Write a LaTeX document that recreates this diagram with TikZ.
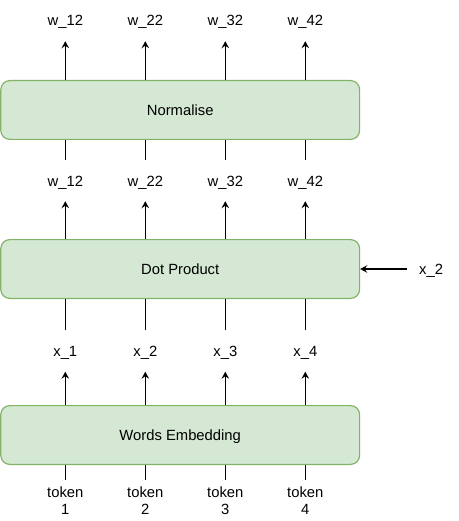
\documentclass[tikz,border=0pt]{standalone}
\usepackage{fontspec}
\setmainfont{Liberation Sans}
\usetikzlibrary{arrows.meta}
\definecolor{boxfill}{HTML}{D5E8D4}
\definecolor{boxline}{HTML}{82B366}

\begin{document}
\begin{tikzpicture}[x=1pt,y=-1pt,font=\fontsize{14.8}{17.4}\selectfont]
        \useasboundingbox (0,0) rectangle (458,521);

        \begin{scope}[every node/.style={draw=boxline, fill=boxfill, line width=1.2pt, rounded corners=9pt,
            minimum width=358.8pt, minimum height=58.8pt, text height=11pt, text depth=0pt}]
          \node (norm) at (180.2,110) {Normalise};
          \node (dot)  at (180.2,269) {Dot Product};
          \node (emb)  at (180.2,435) {Words Embedding};
        \end{scope}

        \begin{scope}[every node/.style={inner sep=0pt, minimum height=41pt, text height=11pt, text depth=0pt}]
          \node (w1) at (65.3,20.5)  {w\_12};
          \node (w2) at (145.3,20.5) {w\_22};
          \node (w3) at (225.3,20.5) {w\_32};
          \node (w4) at (305.3,20.5) {w\_42};
          \node (v1) at (65.3,180.5)  {w\_12};
          \node (v2) at (145.3,180.5) {w\_22};
          \node (v3) at (225.3,180.5) {w\_32};
          \node (v4) at (305.3,180.5) {w\_42};
          \node (x1) at (65.3,351)  {x\_1};
          \node (x2) at (145.3,351) {x\_2};
          \node (x3) at (225.3,351) {x\_3};
          \node (x4) at (305.3,351) {x\_4};
          \node[anchor=west, inner xsep=12pt] (q) at (407,269) {x\_2};
        \end{scope}

        \begin{scope}[every node/.style={align=center, anchor=north, inner sep=0pt, inner ysep=6.5pt}]
          \node (t1) at (65.3,480)  {token\\1};
          \node (t2) at (145.3,480) {token\\2};
          \node (t3) at (225.3,480) {token\\3};
          \node (t4) at (305.3,480) {token\\4};
        \end{scope}

        \begin{scope}[line width=1.1pt]

          \begin{scope}[every edge/.style={draw, -{Stealth[length=7pt, width=7.5pt, inset=2.5pt]}}]
            \path (norm.north -| w1) edge (w1);
            \path (norm.north -| w2) edge (w2);
            \path (norm.north -| w3) edge (w3);
            \path (norm.north -| w4) edge (w4);
            \path (dot.north -| v1)  edge (v1);
            \path (dot.north -| v2)  edge (v2);
            \path (dot.north -| v3)  edge (v3);
            \path (dot.north -| v4)  edge (v4);
            \path (emb.north -| x1)  edge (x1);
            \path (emb.north -| x2)  edge (x2);
            \path (emb.north -| x3)  edge (x3);
            \path (emb.north -| x4)  edge (x4);
            \path (q) edge (dot);
          \end{scope}

          \begin{scope}[every edge/.style={draw}]
            \path (v1) edge (norm.south -| v1);
            \path (v2) edge (norm.south -| v2);
            \path (v3) edge (norm.south -| v3);
            \path (v4) edge (norm.south -| v4);
            \path (x1) edge (dot.south -| x1);
            \path (x2) edge (dot.south -| x2);
            \path (x3) edge (dot.south -| x3);
            \path (x4) edge (dot.south -| x4);
            \path (t1) edge (emb.south -| t1);
            \path (t2) edge (emb.south -| t2);
            \path (t3) edge (emb.south -| t3);
            \path (t4) edge (emb.south -| t4);
          \end{scope}
        \end{scope}

      \end{tikzpicture}
\end{document}
